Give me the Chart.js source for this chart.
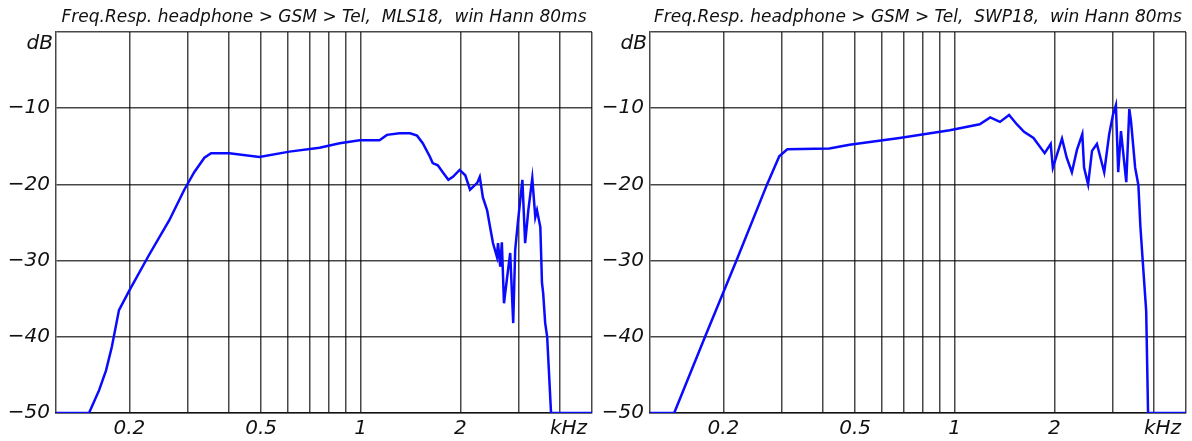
<!DOCTYPE html>
<html>
<head>
<meta charset="utf-8">
<title>Freq.Resp. headphone &gt; GSM &gt; Tel</title>
<script src="https://cdn.jsdelivr.net/npm/chart.js@4.4.1/dist/chart.umd.min.js"></script>
<style>
  html, body { margin: 0; padding: 0; background: #ffffff; }
  #wrap { position: relative; width: 1192px; height: 441px; }
  canvas { position: absolute; top: 0; }
</style>
</head>
<body>
<div id="wrap">
  <canvas id="mls-chart" width="596" height="441" style="left:0"></canvas>
  <canvas id="swp-chart" width="596" height="441" style="left:596px"></canvas>
</div>
<script>
const mlsTitle = "Freq.Resp. headphone > GSM > Tel,  MLS18,  win Hann 80ms";
const swpTitle = "Freq.Resp. headphone > GSM > Tel,  SWP18,  win Hann 80ms";

// frequency in kHz, level in dB
const mlsFreq = [0.12, 0.151, 0.162, 0.170, 0.177, 0.186, 0.200, 0.229, 0.264, 0.293, 0.314, 0.337, 0.353, 0.401, 0.494,
  0.609, 0.751, 0.864, 0.993, 1.14, 1.20, 1.31, 1.41, 1.48, 1.54, 1.62, 1.65, 1.71, 1.77, 1.84, 1.90, 1.99, 2.07, 2.14,
  2.25, 2.29, 2.34, 2.41, 2.46, 2.51, 2.58, 2.60, 2.64, 2.67, 2.71, 2.77, 2.83, 2.89, 2.93, 2.99, 3.08, 3.14, 3.21,
  3.30, 3.37, 3.41, 3.49, 3.53, 3.56, 3.61, 3.66, 3.76, 5.0];
const mlsDb = [-50, -50, -47, -44.4, -41.3, -36.5, -33.9, -29.3, -24.7, -20.7, -18.4, -16.5, -15.9, -15.9, -16.4,
  -15.7, -15.2, -14.6, -14.2, -14.2, -13.5, -13.3, -13.3, -13.6, -14.6, -16.4, -17.2, -17.5, -18.4, -19.4, -19.0, -18.1, -18.8, -20.7,
  -19.8, -19.0, -21.7, -23.4, -25.6, -27.7, -29.5, -27.7, -30.8, -27.6, -35.6, -32.2, -29.0, -38.2, -28.6, -24.7, -19.4, -27.7, -23.4,
  -19.2, -24.3, -23.4, -25.6, -32.9, -34.3, -38.2, -40.0, -50, -50];

const swpFreq = [0.12, 0.142, 0.176, 0.219, 0.271, 0.295, 0.312, 0.418, 0.481, 0.681, 0.966, 1.19, 1.28, 1.37, 1.46,
  1.54, 1.62, 1.73, 1.87, 1.95, 1.98, 2.11, 2.18, 2.26, 2.34, 2.43, 2.46, 2.53, 2.60, 2.69, 2.83, 2.93, 3.01, 3.07,
  3.12, 3.18, 3.30, 3.37, 3.41, 3.51, 3.59, 3.64, 3.71, 3.79, 3.84, 5.0];
const swpDb = [-50, -50, -40, -30, -20, -16.3, -15.4, -15.3, -14.8, -13.9, -12.9, -12.1, -11.2, -11.8, -10.9,
  -12.1, -13.1, -13.9, -15.9, -14.7, -17.8, -14.0, -16.5, -18.4, -15.5, -13.4, -17.8, -20.0, -15.6, -14.7, -18.4, -13.4, -10.8, -9.6,
  -18.4, -13.0, -19.7, -10.1, -11.7, -17.8, -20.1, -25.5, -30.8, -36.6, -50, -50];

const xGridValues = [0.2, 0.3, 0.4, 0.5, 0.6, 0.7, 0.8, 0.9, 1, 2, 3, 4, 5];
const xLabelValues = [0.2, 0.5, 1, 2];
const xLabelTexts = ["0.2", "0.5", "1", "2"];
const yGridValues = [-50, -40, -30, -20, -10, 0];
const yLabelTexts = ["\u221250", "\u221240", "\u221230", "\u221220", "\u221210", ""];
const xUnit = "kHz";
const yUnit = "dB";

const lineColor = "#0a0aff";
const gridColor = "rgba(0, 0, 0, 0.72)";
const textColor = "#111111";
const labelFont = { family: "'DejaVu Sans', sans-serif", size: 20, style: "italic" };
const titleFont = { family: "'DejaVu Sans', sans-serif", size: 17, style: "italic", weight: "normal" };

const unitLabels = {
  id: "unitLabels",
  afterDraw: function (chart) {
    const ctx = chart.ctx;
    const area = chart.chartArea;
    ctx.save();
    ctx.font = "italic 20px 'DejaVu Sans', sans-serif";
    ctx.fillStyle = textColor;
    ctx.textAlign = "right";
    ctx.textBaseline = "middle";
    ctx.fillText(yUnit, area.left - 3, area.top + 12);
    ctx.fillText(xUnit, area.right - 5, area.bottom + 16);
    ctx.restore();
  },
};

function makeChart(canvasId, title, freqs, levels, axisWidth, rightPad) {
  return new Chart(document.getElementById(canvasId), {
    type: "line",
    data: {
      datasets: [
        {
          data: freqs.map(function (f, i) {
            return { x: f, y: levels[i] };
          }),
          borderColor: lineColor,
          borderWidth: 2.5,
          pointRadius: 0,
          tension: 0,
          fill: false,
        },
      ],
    },
    options: {
      responsive: false,
      animation: false,
      devicePixelRatio: 1,
      layout: { padding: { left: 0, right: rightPad, top: 0, bottom: 0 } },
      plugins: {
        legend: { display: false },
        tooltip: { enabled: false },
        title: {
          display: true,
          text: title,
          fullSize: false,
          color: textColor,
          font: titleFont,
          padding: { top: 7, bottom: 4.6 },
        },
      },
      scales: {
        x: {
          type: "logarithmic",
          min: 0.12,
          max: 5,
          afterBuildTicks: function (scale) {
            scale.ticks = xGridValues.map(function (v) {
              return { value: v };
            });
          },
          afterFit: function (scale) {
            scale.height = 28;
          },
          grid: { color: gridColor, lineWidth: 1.5, drawTicks: false },
          border: { color: gridColor, width: 1.5 },
          ticks: {
            autoSkip: false,
            maxRotation: 0,
            padding: 4,
            color: textColor,
            font: labelFont,
            callback: function (value) {
              const i = xLabelValues.indexOf(value);
              return i >= 0 ? xLabelTexts[i] : "";
            },
          },
        },
        y: {
          type: "linear",
          min: -50,
          max: 0,
          afterBuildTicks: function (scale) {
            scale.ticks = yGridValues.map(function (v) {
              return { value: v };
            });
          },
          afterFit: function (scale) {
            scale.width = axisWidth;
          },
          grid: { color: gridColor, lineWidth: 1.5, drawTicks: false },
          border: { color: gridColor, width: 1.5 },
          ticks: {
            padding: 6,
            color: textColor,
            font: labelFont,
            callback: function (value) {
              return yLabelTexts[yGridValues.indexOf(value)];
            },
          },
        },
      },
    },
    plugins: [unitLabels],
  });
}

makeChart("mls-chart", mlsTitle, mlsFreq, mlsDb, 56, 4);
makeChart("swp-chart", swpTitle, swpFreq, swpDb, 54, 6);
</script>
</body>
</html>
